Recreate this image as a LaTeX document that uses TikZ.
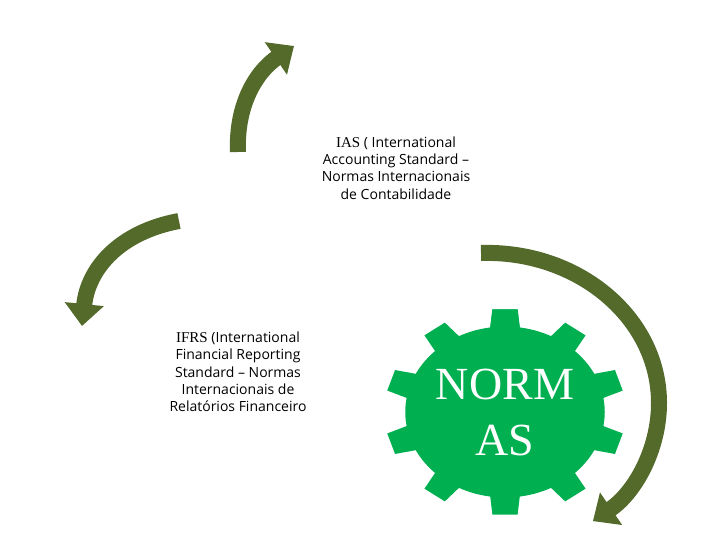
\documentclass[tikz,border=0pt]{standalone}
\usepackage{fontspec}
\setsansfont{Open Sans}
\setmainfont{Liberation Serif}
\usetikzlibrary{arrows.meta}
\definecolor{olive}{HTML}{536A2B}
\definecolor{gear}{HTML}{00B050}
\begin{document}
\begin{tikzpicture}[x=1pt,y=-1pt,
  arr/.style={draw=olive,line width=16pt,-{Triangle[width=38pt,length=22pt]}},
  lbl/.style={align=center,font=\sffamily\fontsize{14}{17.3}\selectfont,inner sep=0pt}]
\useasboundingbox (0,0) rectangle (720,540);
% arrows
\coordinate (a1s) at (238,152);
\coordinate (a1e) at (294,46);
\draw[arr] (a1s) .. controls (236,105) and (256,72) .. (a1e);
\coordinate (a2s) at (179,221);
\coordinate (a2e) at (82,326);
\draw[arr] (a2s) .. controls (120,232) and (88,268) .. (a2e);
\coordinate (a3s) at (481,253);
\draw[arr] (a3s) arc[start angle=92,end angle=-52,x radius=172,y radius=-150];
% gear
\begin{scope}[shift={(505,412)},xscale=1.05,yscale=0.9]
 \fill[gear] (0,0) circle[radius=95];
 \foreach \a in {90,126,...,450}{
   \fill[gear,rotate=\a] (85,-15) -- (114,-12) -- (114,12) -- (85,15) -- cycle;}
\end{scope}
\node[text=white,align=center,font=\rmfamily\fontsize{46}{56}\selectfont,inner sep=0pt] (g) at (505,412) {NORM\\AS};
\node[lbl] (ias) at (396,168) {{\rmfamily\fontsize{15}{17}\selectfont IAS} ( International\\Accounting Standard --\\Normas Internacionais\\de Contabilidade};
\node[lbl] (ifrs) at (238,372) {{\rmfamily\fontsize{15}{17}\selectfont IFRS} (International\\Financial Reporting\\Standard -- Normas\\Internacionais de\\Relatórios Financeiro};
\end{tikzpicture}
\end{document}
